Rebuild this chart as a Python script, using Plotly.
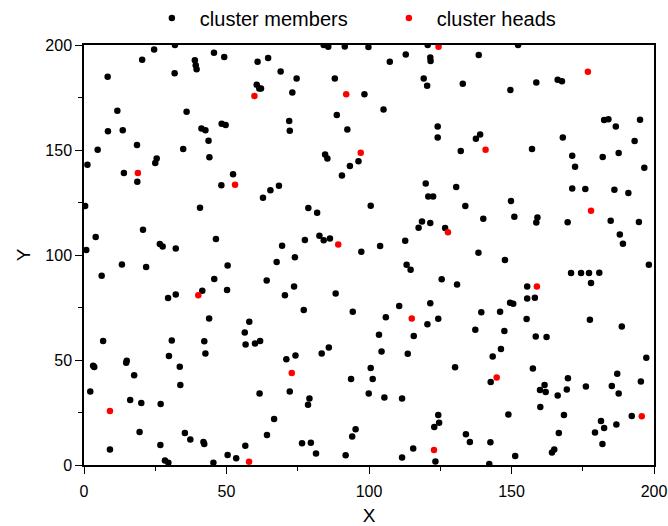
import plotly.graph_objects as go

# cluster members (black)
member_x = [
    24.6, 31.9, 20.4, 38.9, 39.2, 39.5, 45.6, 49.2, 8.3, 31.8, 11.7, 36.0, 8.4, 13.6, 41.2, 42.6, 48.3, 49.7,
    43.7, 18.6, 34.8, 4.8, 44.0, 25.5, 25.0, 1.2, 14.0, 18.7, 48.2, 0.4, 40.7, 20.7, 4.1, 46.3, 26.6, 27.6,
    32.2, 0.8,
    84.1, 85.7, 91.5, 99.8, 60.9, 64.6, 69.0, 74.6, 88.0, 60.6, 61.5, 62.1, 73.1, 98.4, 88.7, 72.0, 72.2,
    92.4, 84.6, 85.4, 96.3, 93.3, 90.5, 52.3, 68.4, 65.4, 62.8, 100.6, 78.7, 81.8, 82.6, 84.1, 86.3, 77.5,
    69.5, 97.3,
    120.6, 152.3, 112.9, 107.3, 121.5, 121.6, 138.5, 119.2, 120.4, 132.9, 149.6, 105.1, 124.1, 124.1, 139.0,
    137.5, 132.2, 119.9, 130.6, 120.8, 122.5, 133.8, 149.8, 151.0, 140.1, 118.6, 121.5, 117.4, 126.7, 103.9,
    112.7, 138.4,
    158.7, 166.2, 167.7, 182.5, 184.0, 195.1, 186.6, 168.0, 193.2, 157.2, 171.3, 182.0, 187.6, 172.3, 196.6,
    171.3, 175.9, 186.1, 191.0, 159.1, 158.7, 169.7, 184.8, 194.7, 188.0, 189.1,
    13.3, 21.8, 6.2, 50.4, 45.7, 41.5, 32.2, 29.5, 50.2, 43.9, 6.7, 30.8, 42.2, 42.6, 29.8, 15.0, 14.8, 3.2,
    3.6, 33.6, 17.6, 33.8, 2.2, 16.2, 20.1, 26.9, 19.5, 35.4, 37.3, 41.9, 42.2, 9.1, 26.8, 28.4, 29.6, 45.4,
    50.4,
    67.6, 74.0, 64.1, 73.7, 70.5, 88.3, 77.1, 94.3, 58.0, 56.4, 56.7, 60.0, 61.8, 71.0, 74.2, 83.4, 85.9,
    100.6, 93.7, 101.3, 61.6, 72.2, 79.1, 78.6, 99.9, 66.7, 64.2, 95.3, 94.1, 56.6, 76.5, 79.6, 81.4, 91.8,
    53.4,
    147.7, 113.2, 114.6, 125.5, 130.9, 121.5, 110.6, 105.9, 124.3, 120.5, 139.4, 146.0, 149.5, 150.6, 137.3,
    147.5, 103.5, 115.7, 104.4, 113.6, 146.3, 143.4, 130.2, 142.7, 105.4, 111.6, 124.3, 124.6, 122.9, 148.9,
    134.0, 135.4, 142.6, 115.5, 111.6, 123.3, 142.2, 151.3,
    198.2, 170.9, 174.4, 177.2, 180.8, 177.9, 155.5, 155.5, 158.2, 155.3, 177.5, 188.7, 158.5, 162.3, 157.5,
    197.3, 169.8, 187.1, 195.4, 161.6, 160.0, 162.0, 169.4, 176.1, 185.2, 166.2, 187.6, 160.1, 168.4, 192.2,
    181.4, 182.5, 179.3, 186.8, 166.6, 181.9, 165.0, 164.2,
]
member_y = [
    197.9, 200.0, 193.0, 192.7, 190.4, 188.5, 196.3, 194.3, 184.9, 186.6, 168.7, 168.2, 158.9, 159.4, 160.2,
    159.4, 162.5, 161.9, 154.4, 152.4, 150.5, 150.1, 146.5, 146.0, 143.8, 143.0, 139.0, 134.9, 133.2, 123.3,
    122.5, 112.0, 108.6, 107.6, 105.2, 104.0, 103.1, 102.4,
    200.0, 199.2, 199.3, 199.0, 192.0, 193.8, 187.4, 184.1, 184.1, 181.1, 179.3, 179.3, 177.4, 176.5, 166.7,
    163.8, 159.2, 159.8, 147.9, 146.0, 144.6, 142.4, 137.9, 138.4, 133.0, 130.8, 127.3, 123.5, 122.4, 120.1,
    109.2, 107.0, 107.8, 107.1, 104.4, 101.6,
    200.0, 200.0, 195.5, 192.0, 194.1, 192.4, 195.2, 184.1, 180.6, 181.6, 178.6, 169.3, 161.2, 155.9, 157.4,
    155.4, 149.5, 134.1, 132.4, 127.9, 127.9, 123.3, 125.7, 118.2, 117.3, 116.0, 115.2, 113.0, 112.9, 104.3,
    106.8, 101.1,
    182.2, 183.5, 182.7, 164.3, 164.6, 164.4, 161.2, 155.9, 154.3, 150.5, 147.3, 146.7, 148.6, 142.0, 141.6,
    131.7, 131.4, 131.1, 129.5, 117.9, 115.5, 115.6, 116.3, 115.7, 109.8, 105.4,
    95.5, 94.3, 90.1, 95.0, 88.6, 83.0, 81.2, 79.5, 83.3, 69.8, 59.0, 59.3, 58.9, 53.1, 51.9, 49.7, 48.7,
    47.3, 46.7, 46.8, 42.7, 38.1, 35.0, 31.0, 29.5, 29.0, 15.7, 15.2, 12.2, 11.0, 10.0, 7.4, 9.5, 2.2, 1.1,
    1.1, 4.8,
    96.7, 98.9, 87.9, 85.0, 80.8, 81.7, 73.8, 73.0, 68.2, 63.1, 57.4, 57.8, 59.0, 50.3, 52.2, 53.1, 55.9,
    46.2, 41.0, 41.0, 34.1, 35.0, 31.7, 28.7, 34.0, 21.9, 14.3, 17.0, 13.6, 9.2, 10.3, 10.6, 5.5, 4.6, 3.2,
    97.6, 95.4, 93.0, 88.4, 86.0, 77.0, 75.7, 70.3, 69.7, 67.0, 72.7, 73.0, 77.3, 76.8, 64.4, 63.8, 62.0,
    61.4, 54.1, 53.0, 55.2, 51.7, 46.5, 39.5, 32.2, 31.7, 23.8, 20.1, 18.1, 24.0, 14.6, 11.0, 10.8, 7.9,
    3.6, 1.7, 0.5, 4.3,
    95.4, 91.4, 91.4, 91.4, 91.6, 86.7, 85.0, 79.3, 79.7, 69.5, 69.2, 65.9, 61.2, 60.9, 46.0, 51.1, 41.3,
    43.5, 39.8, 38.1, 35.7, 34.8, 35.9, 37.4, 37.6, 33.1, 34.1, 27.6, 23.8, 23.3, 21.0, 17.6, 15.5, 19.3,
    15.2, 10.0, 7.4, 6.0,
]

# cluster heads (red)
head_x = [18.9, 59.8, 92.0, 97.1, 53.0, 89.2, 124.4, 140.9, 127.7, 176.8, 177.9,
          40.1, 9.1, 72.9, 57.9, 115.0, 144.8, 122.8, 158.9, 195.7]
head_y = [139.0, 175.7, 176.5, 148.7, 133.5, 105.0, 199.2, 150.1, 110.8, 187.3, 121.1,
          80.8, 25.7, 43.8, 1.6, 69.8, 41.7, 7.1, 85.0, 23.2]

major_ticks = [0, 50, 100, 150, 200]
tick_labels = ["0", "50", "100", "150", "200"]
minor_ticks = [25, 75, 125, 175]

FONT = "Arial, Liberation Sans, sans-serif"

fig = go.Figure()
fig.add_trace(go.Scatter(x=member_x, y=member_y, mode="markers", name="cluster members",
                         marker=dict(color="black", size=6.5)))
fig.add_trace(go.Scatter(x=head_x, y=head_y, mode="markers", name="cluster heads",
                         marker=dict(color="red", size=6.5)))

axis_common = dict(
    range=[0, 200], tickmode="array", tickvals=major_ticks, ticktext=tick_labels,
    ticks="outside", ticklen=7, tickwidth=1.3, tickcolor="black",
    showline=True, linecolor="black", linewidth=1.5, mirror=True,
    showgrid=False, zeroline=False,
    minor=dict(ticks="outside", ticklen=4, tickwidth=1.3, tickcolor="black", tickvals=minor_ticks),
    tickfont=dict(family=FONT, size=16, color="black"),
)

fig.update_layout(
    width=668, height=526,
    margin=dict(l=84, r=14, t=45, b=61, autoexpand=False),
    paper_bgcolor="white", plot_bgcolor="white",
    font=dict(family=FONT, color="black"),
    xaxis=dict(**axis_common, title=dict(text="X", font=dict(family=FONT, size=19), standoff=12),
               ticklabelstandoff=4),
    yaxis=dict(**axis_common, title=dict(text="Y", font=dict(family=FONT, size=19), standoff=10)),
    yaxis2=dict(range=[0, 200], overlaying="y", side="right", tickmode="array", tickvals=major_ticks,
                ticks="outside", ticklen=7, tickwidth=1.3, tickcolor="black", showticklabels=False,
                showline=False, showgrid=False, zeroline=False,
                minor=dict(ticks="outside", ticklen=4, tickwidth=1.3, tickcolor="black",
                           tickvals=minor_ticks)),
    legend=dict(orientation="h", x=0.105, xanchor="left", y=1.064, yanchor="middle",
                font=dict(family=FONT, size=20), itemwidth=46,
                entrywidth=176, entrywidthmode="pixels", bgcolor="rgba(0,0,0,0)"),
)
fig.update_xaxes(automargin=False)
fig.update_yaxes(automargin=False)

fig.write_html("out.html")
